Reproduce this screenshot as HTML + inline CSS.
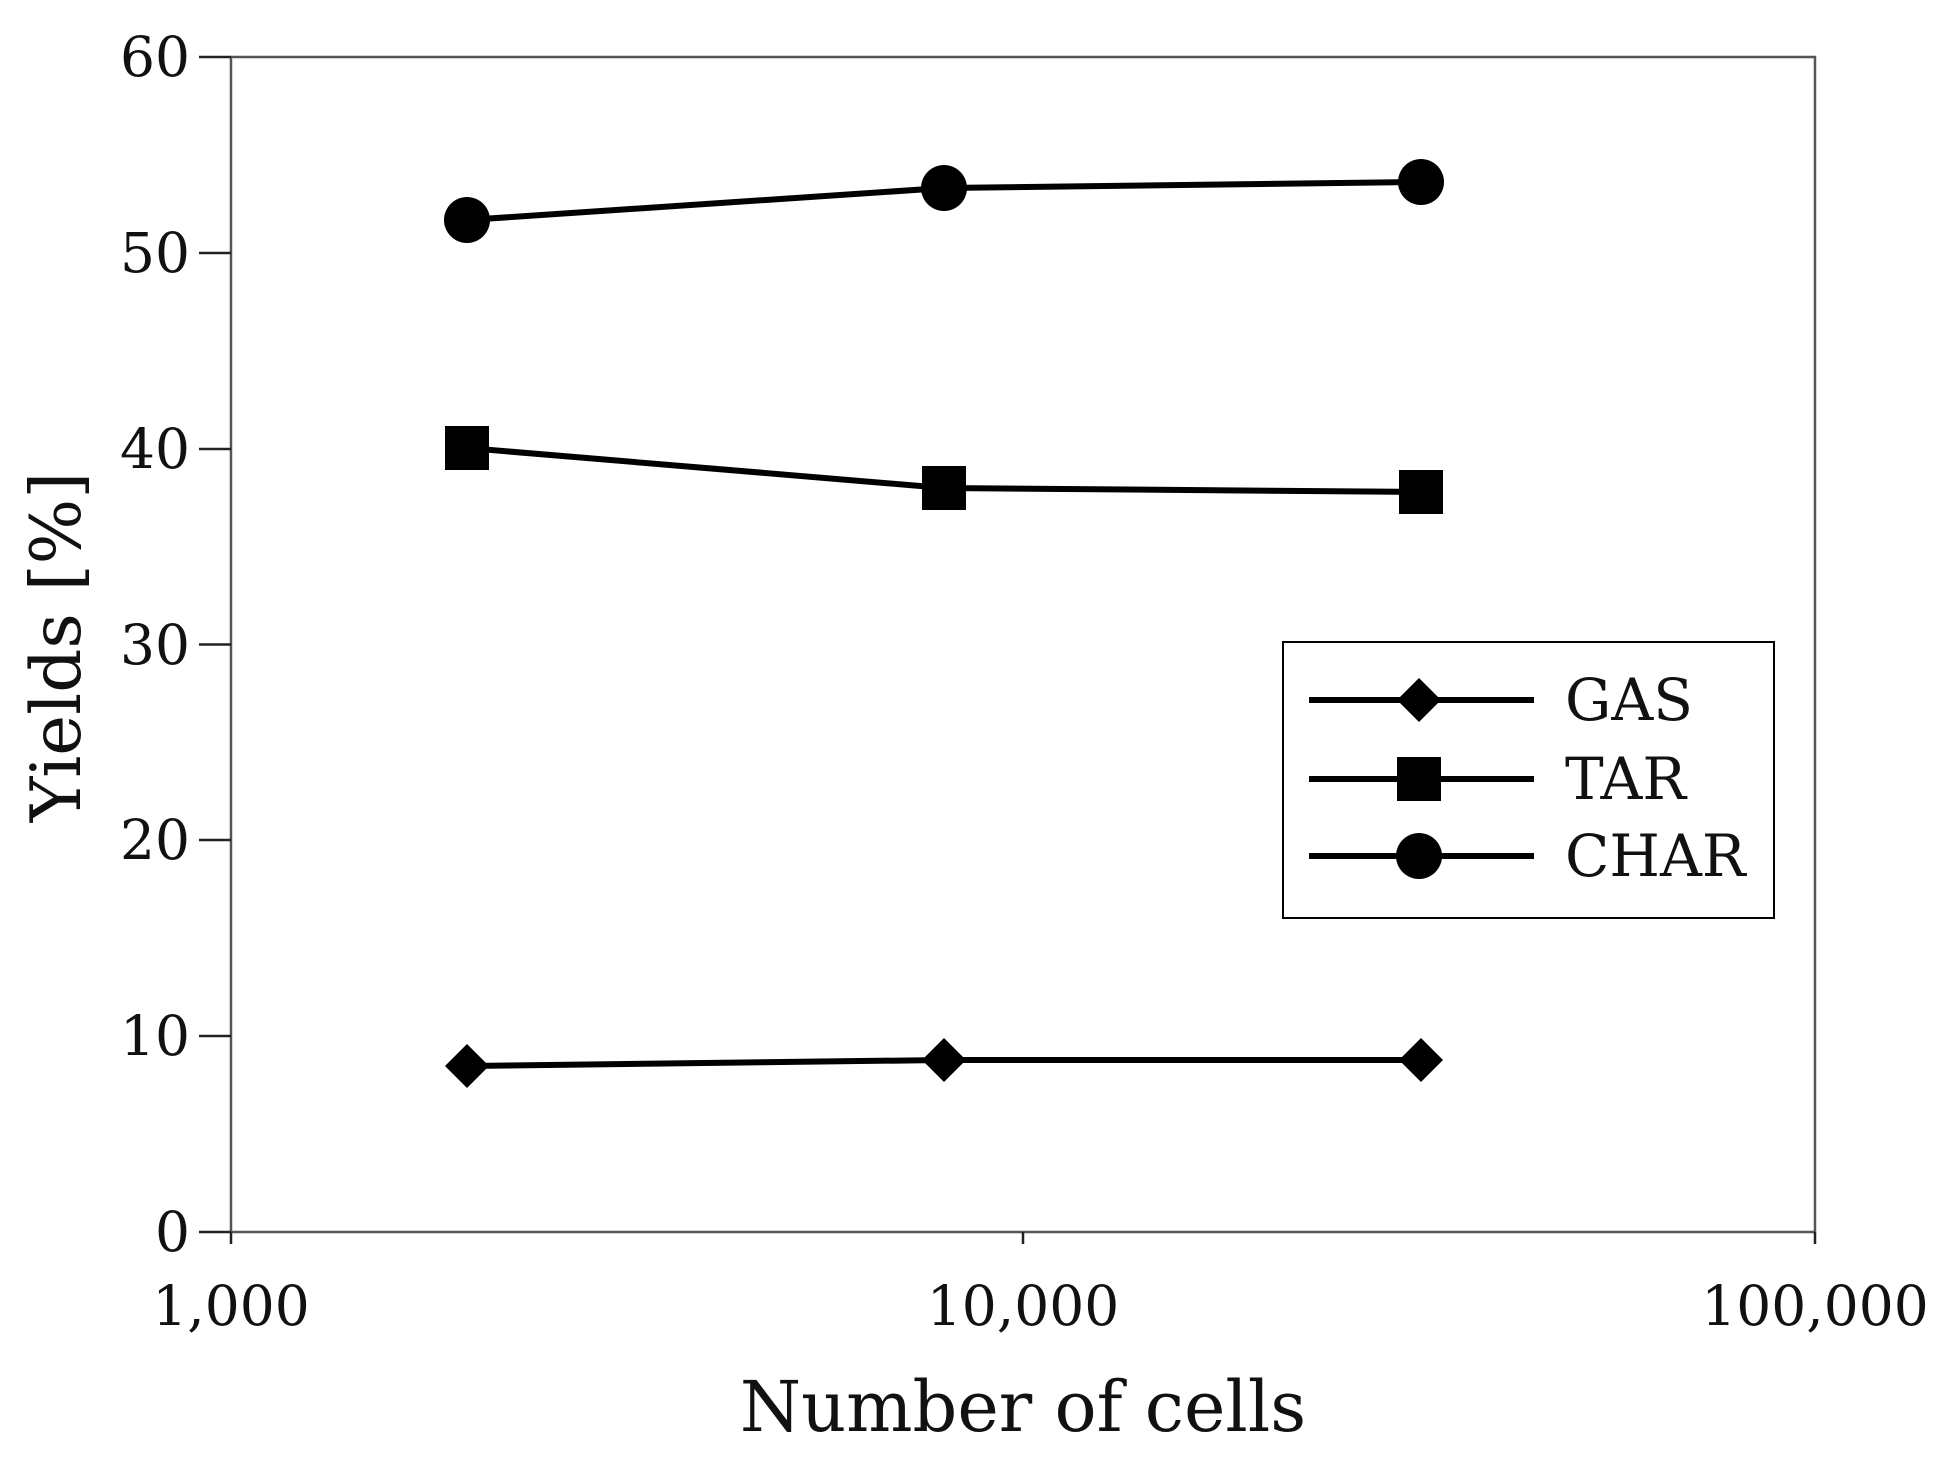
<!DOCTYPE html>
<html><head><style>html,body{margin:0;padding:0;background:#fff}</style></head><body>
<svg width="1951" height="1463" viewBox="0 0 1951 1463" xmlns="http://www.w3.org/2000/svg" font-family="'DejaVu Serif','Liberation Serif',serif">
<rect x="231" y="57" width="1584" height="1175" fill="none" stroke="#555" stroke-width="2.5"/>
<g stroke="#222" stroke-width="2.5">
<line x1="199" y1="57" x2="231" y2="57"/><line x1="199" y1="253" x2="231" y2="253"/><line x1="199" y1="449" x2="231" y2="449"/><line x1="199" y1="644.5" x2="231" y2="644.5"/><line x1="199" y1="840" x2="231" y2="840"/><line x1="199" y1="1036" x2="231" y2="1036"/><line x1="199" y1="1232" x2="231" y2="1232"/>
<line x1="231" y1="1232" x2="231" y2="1244"/><line x1="1023" y1="1232" x2="1023" y2="1244"/><line x1="1815" y1="1232" x2="1815" y2="1244"/>
</g>
<g font-size="55" fill="#111" text-anchor="end">
<text x="190" y="76">60</text><text x="190" y="272">50</text><text x="190" y="468">40</text><text x="190" y="664">30</text><text x="190" y="859">20</text><text x="190" y="1055">10</text><text x="190" y="1251">0</text>
</g>
<g font-size="55" fill="#111" text-anchor="middle">
<text x="231" y="1325">1,000</text><text x="1023" y="1325">10,000</text><text x="1815" y="1325">100,000</text>
</g>
<text x="1023" y="1431" font-size="70" text-anchor="middle" fill="#111">Number of cells</text>
<text transform="translate(80,647) rotate(-90)" font-size="69" text-anchor="middle" fill="#111">Yields [%]</text>
<g stroke="#000" stroke-width="6" fill="none">
<polyline points="467,220 944,188 1421,182"/>
<polyline points="467,448 944,488 1421,492"/>
<polyline points="467,1066 944,1060 1421,1060"/>
</g>
<g fill="#000">
<circle cx="467" cy="220" r="23"/><circle cx="944" cy="188" r="23"/><circle cx="1421" cy="182" r="23"/>
<rect x="445" y="426" width="44" height="44"/><rect x="922" y="466" width="44" height="44"/><rect x="1399" y="470" width="44" height="44"/>
<polygon points="467,1044 489,1066 467,1088 445,1066"/><polygon points="944,1038 966,1060 944,1082 922,1060"/><polygon points="1421,1038 1443,1060 1421,1082 1399,1060"/>
</g>
<rect x="1283" y="642" width="491" height="276" fill="#fff" stroke="#000" stroke-width="2"/>
<g stroke="#000" stroke-width="6">
<line x1="1309" y1="700" x2="1534" y2="700"/><line x1="1309" y1="779" x2="1534" y2="779"/><line x1="1309" y1="856" x2="1534" y2="856"/>
</g>
<polygon points="1419,678 1441,700 1419,722 1397,700"/>
<rect x="1397" y="757" width="44" height="44"/>
<circle cx="1419" cy="856" r="23"/>
<g font-size="58" fill="#111">
<text x="1565" y="720">GAS</text><text x="1565" y="799">TAR</text><text x="1565" y="876">CHAR</text>
</g>
</svg>
</body></html>
